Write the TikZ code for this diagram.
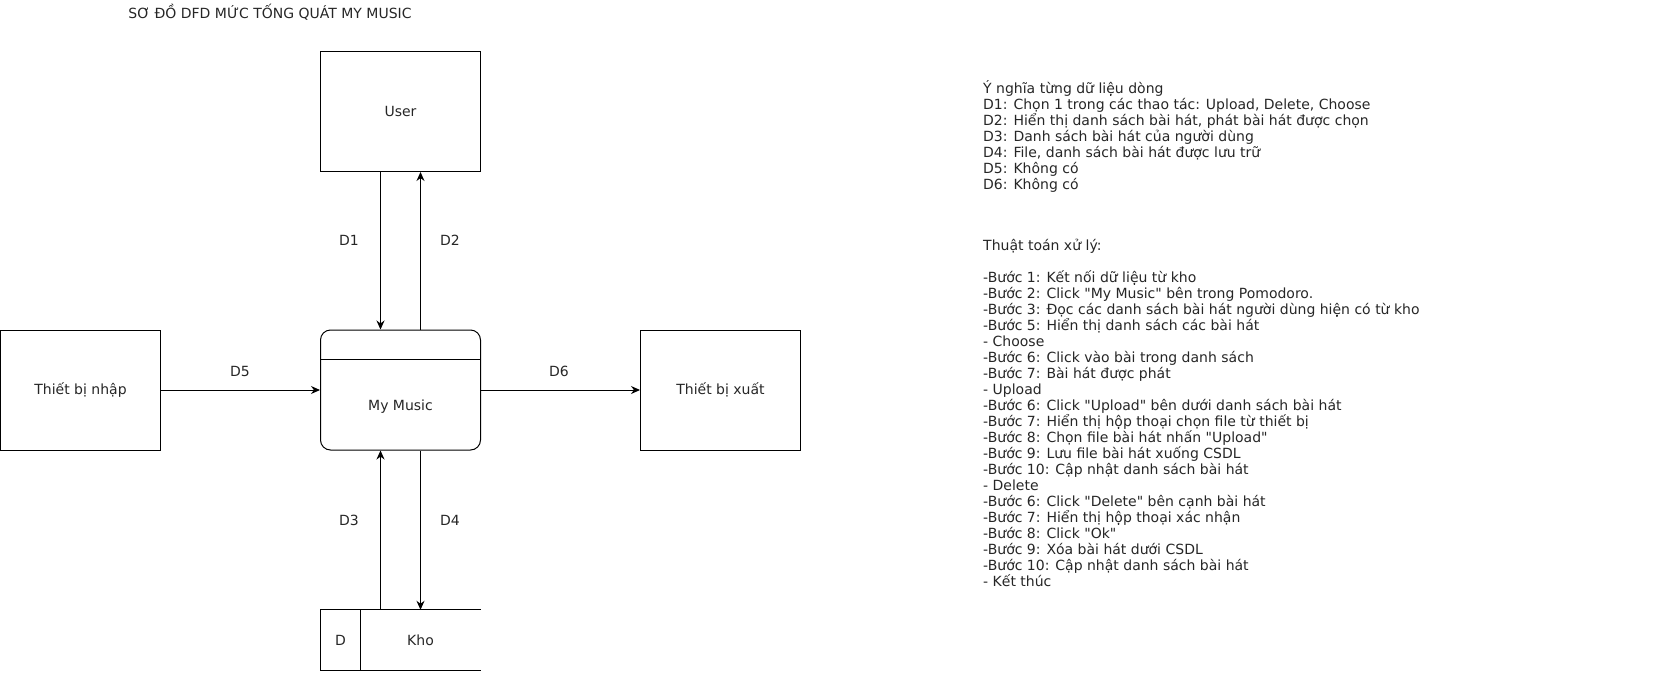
\documentclass[tikz,border=0pt]{standalone}
\usepackage{fontspec}
\setmainfont{DejaVu Sans}[Ligatures=TeXOff]
\usetikzlibrary{arrows.meta}
\begin{document}
\begin{tikzpicture} [
                x=1pt, y=-1pt,
                every node/.style={font=\fontsize{14}{16}\selectfont, text=black!85},
                entity/.style={draw, line width=1pt, minimum width=160pt, minimum height=120pt, inner sep=0pt},
                process/.style={entity, rounded corners=10pt},
                store/.style={minimum width=160pt, minimum height=60pt, inner sep=0pt},
                flow/.style={draw, line width=1pt, -{Stealth[length=9pt,width=8pt]}},
                note/.style={align=left, anchor=base west, inner sep=0pt},
            ]
            \useasboundingbox (0,0) rectangle (1661,672);
            % title
            \node (title) at (270,12) {SƠ ĐỒ DFD MỨC TỐNG QUÁT MY MUSIC};
            % First we draw the entities and the process
            \foreach \pos/\name/\text in {
                    {(400.5,111.5)/user/User}, {(80.5,390)/nhap/Thiết bị nhập}, {(720.5,390)/xuat/Thiết bị xuất}}
                \node[entity] (\name) at \pos {\text};
            \node[process] (proc) at (400.5,390) {};
            \draw[line width=1pt] ([yshift=-30pt]proc.north west) -- ([yshift=-30pt]proc.north east);
            \node (procname) at (400.5,407) {My Music};
            % data store
            \node[store] (kho) at (400.5,640) {};
            \draw[line width=1pt] (kho.north east) -- (kho.north west) -- (kho.south west) -- (kho.south east);
            \draw[line width=1pt] ([xshift=40pt]kho.north west) -- ([xshift=40pt]kho.south west);
            \node (khoid) at (340.5,640) {D};
            \node (khoname) at (420.5,640) {Kho};
            % Connect with flows
            \path[flow] ([xshift=-20pt]user.south) -- ([xshift=-20pt]proc.north);
            \path[flow] ([xshift=20pt]proc.north) -- ([xshift=20pt]user.south);
            \path[flow] (nhap.east) -- (proc.west);
            \path[flow] (proc.east) -- (xuat.west);
            \path[flow] ([xshift=-20pt]kho.north) -- ([xshift=-20pt]proc.south);
            \path[flow] ([xshift=20pt]proc.south) -- ([xshift=20pt]kho.north);
            % flow labels
            \foreach \pos/\name in {
                    {(349,240)/D1}, {(450,240)/D2}, {(240,371)/D5}, {(559,371)/D6}, {(349,520)/D3}, {(450,520)/D4}}
                \node (l\name) at \pos {\name};
            % notes (anchored at the last line)
            \node[note] (meaning) at (983,189) {Ý nghĩa từng dữ liệu dòng\\
                D1: Chọn 1 trong các thao tác: Upload, Delete, Choose\\
                D2: Hiển thị danh sách bài hát, phát bài hát được chọn\\
                D3: Danh sách bài hát của người dùng\\
                D4: File, danh sách bài hát được lưu trữ\\
                D5: Không có\\
                D6: Không có};
            \node[note] (algo) at (983,586) {Thuật toán xử lý:\\[16pt]
                -Bước 1: Kết nối dữ liệu từ kho\\
                -Bước 2: Click "My Music" bên trong Pomodoro.\\
                -Bước 3: Đọc các danh sách bài hát người dùng hiện có từ kho\\
                -Bước 5: Hiển thị danh sách các bài hát\\
                - Choose\\
                -Bước 6: Click vào bài trong danh sách\\
                -Bước 7: Bài hát được phát\\
                - Upload\\
                -Bước 6: Click "Upload" bên dưới danh sách bài hát\\
                -Bước 7: Hiển thị hộp thoại chọn file từ thiết bị\\
                -Bước 8: Chọn file bài hát nhấn "Upload"\\
                -Bước 9: Lưu file bài hát xuống CSDL\\
                -Bước 10: Cập nhật danh sách bài hát\\
                - Delete\\
                -Bước 6: Click "Delete" bên cạnh bài hát\\
                -Bước 7: Hiển thị hộp thoại xác nhận\\
                -Bước 8: Click "Ok"\\
                -Bước 9: Xóa bài hát dưới CSDL\\
                -Bước 10: Cập nhật danh sách bài hát\\
                - Kết thúc};
        \end{tikzpicture}
\end{document}
